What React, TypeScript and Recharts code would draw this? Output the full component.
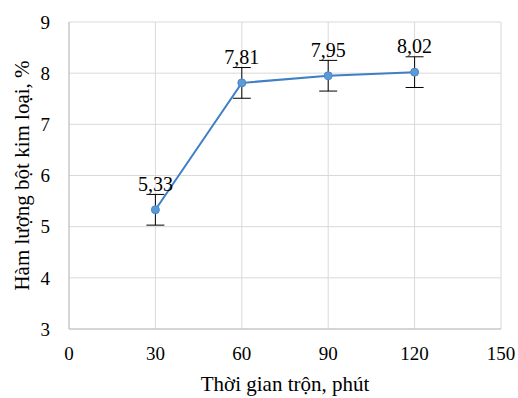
import React from 'react';
import { LineChart, Line, XAxis, YAxis, CartesianGrid, ErrorBar, LabelList } from 'recharts';

const times = [30, 60, 90, 120];
const contents = [5.33, 7.81, 7.95, 8.02];
const errors = [0.3, 0.3, 0.3, 0.3];
const xTicks = [0, 30, 60, 90, 120, 150];
const yTicks = [3, 4, 5, 6, 7, 8, 9];

const data = times.map((t, i) => ({ t, v: contents[i], e: errors[i] }));

const FONT = '"Liberation Serif", "Times New Roman", serif';

export default function App() {
  return (
    <div style={{ position: 'absolute', left: 0, top: 0, width: 518, height: 398, background: '#fff' }}>
      <LineChart width={518} height={398} data={data} margin={{ top: 22, right: 17, bottom: 0, left: 0 }}>
        <CartesianGrid stroke="#d9d9d9" strokeWidth={1} />
        <XAxis
          dataKey="t"
          type="number"
          domain={[0, 150]}
          ticks={xTicks}
          tickLine={false}
          axisLine={{ stroke: '#bfbfbf' }}
          tick={{ fill: '#000', fontSize: 19, fontFamily: FONT }}
          tickMargin={12}
          height={69}
          label={{ value: 'Thời gian trộn, phút', position: 'insideBottom', offset: 7, fill: '#000', fontSize: 21, fontFamily: FONT }}
        />
        <YAxis
          type="number"
          domain={[3, 9]}
          ticks={yTicks}
          tickLine={false}
          axisLine={{ stroke: '#bfbfbf' }}
          tick={{ fill: '#000', fontSize: 19, fontFamily: FONT }}
          tickMargin={13}
          width={69}
          label={{ value: 'Hàm lượng bột kim loại, %', angle: -90, position: 'center', dx: -13, fill: '#000', fontSize: 21, fontFamily: FONT }}
        />
        <Line
          dataKey="v"
          type="linear"
          stroke="#3f7fc5"
          strokeWidth={2}
          dot={{ r: 4, fill: '#5b9bd5', stroke: '#4a86c8', strokeWidth: 1 }}
          isAnimationActive={false}
        >
          <ErrorBar dataKey="e" direction="y" width={9} stroke="#000" strokeWidth={1} />
          <LabelList
            dataKey="v"
            position="top"
            offset={19}
            formatter={(v: number) => v.toFixed(2).replace('.', ',')}
            style={{ fill: '#000', fontSize: 20, fontFamily: FONT }}
          />
        </Line>
      </LineChart>
    </div>
  );
}
